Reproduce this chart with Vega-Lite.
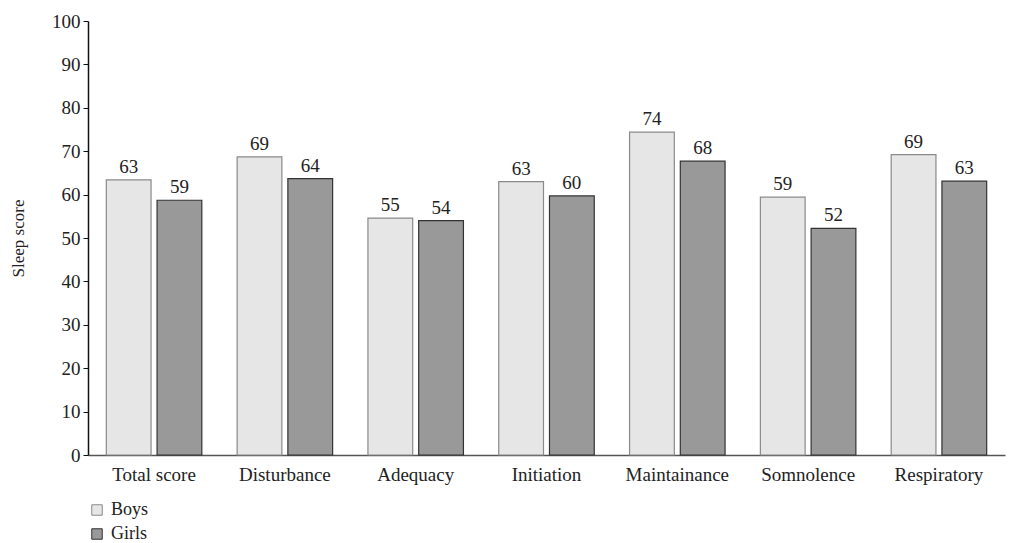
{
  "$schema": "https://vega.github.io/schema/vega-lite/v6.json",
  "autosize": {"type": "none"},
  "padding": {"left": 88, "top": 21, "right": 5, "bottom": 88},
  "width": 917,
  "height": 434,
  "background": "white",
  "config": {
    "view": {"stroke": null},
    "font": "Liberation Serif",
    "axis": {"labelFont": "Liberation Serif", "titleFont": "Liberation Serif", "labelColor": "#222", "titleColor": "#222"},
    "legend": {"labelFont": "Liberation Serif"}
  },
  "data": {
    "values": [
      {"category": "Total score", "sex": "Boys", "score": 63.4},
      {"category": "Total score", "sex": "Girls", "score": 58.7},
      {"category": "Disturbance", "sex": "Boys", "score": 68.7},
      {"category": "Disturbance", "sex": "Girls", "score": 63.7},
      {"category": "Adequacy", "sex": "Boys", "score": 54.6},
      {"category": "Adequacy", "sex": "Girls", "score": 54.0},
      {"category": "Initiation", "sex": "Boys", "score": 63.0},
      {"category": "Initiation", "sex": "Girls", "score": 59.7},
      {"category": "Maintainance", "sex": "Boys", "score": 74.4},
      {"category": "Maintainance", "sex": "Girls", "score": 67.7},
      {"category": "Somnolence", "sex": "Boys", "score": 59.4},
      {"category": "Somnolence", "sex": "Girls", "score": 52.2},
      {"category": "Respiratory", "sex": "Boys", "score": 69.2},
      {"category": "Respiratory", "sex": "Girls", "score": 63.1}
    ]
  },
  "encoding": {
    "x": {
      "field": "category", "type": "nominal", "sort": null,
      "scale": {"paddingInner": 0.27, "paddingOuter": 0.14},
      "axis": {"title": null, "labelAngle": 0, "labelFontSize": 19, "ticks": false, "labelPadding": 10, "domainColor": "#555", "domainWidth": 1.5, "labelOverlap": false}
    },
    "xOffset": {"field": "sex", "type": "nominal", "scale": {"paddingInner": 0.118, "paddingOuter": 0}},
    "y": {
      "field": "score", "type": "quantitative",
      "scale": {"domain": [0, 100], "nice": false},
      "axis": {"title": "Sleep score", "titleFontSize": 17, "titleFontWeight": "normal", "titlePadding": 24, "labelFontSize": 19, "values": [0,10,20,30,40,50,60,70,80,90,100], "labelOverlap": false, "grid": false, "domainColor": "#111", "domainWidth": 1.5, "tickColor": "#111", "tickSize": 5, "labelPadding": 3}
    }
  },
  "layer": [
    {
      "mark": {"type": "bar", "strokeWidth": 1.2},
      "encoding": {
        "color": {
          "field": "sex", "type": "nominal",
          "scale": {"domain": ["Boys", "Girls"], "range": ["#e6e6e6", "#999999"]},
          "legend": {
            "title": null, "orient": "none", "legendX": 0, "legendY": 480, "direction": "vertical",
            "labelFontSize": 18, "labelColor": "#222", "symbolType": "square", "symbolSize": 110,
            "symbolStrokeColor": "#333", "symbolStrokeWidth": 1, "rowPadding": 6, "labelOffset": 5
          }
        },
        "stroke": {
          "field": "sex", "type": "nominal",
          "scale": {"domain": ["Boys", "Girls"], "range": ["#8a8a8a", "#333333"]},
          "legend": null
        }
      }
    },
    {
      "mark": {"type": "text", "baseline": "alphabetic", "dy": -7, "fontSize": 19, "color": "#222", "font": "Liberation Serif"},
      "encoding": {"text": {"field": "score", "type": "quantitative", "format": ".0f"}}
    }
  ]
}
